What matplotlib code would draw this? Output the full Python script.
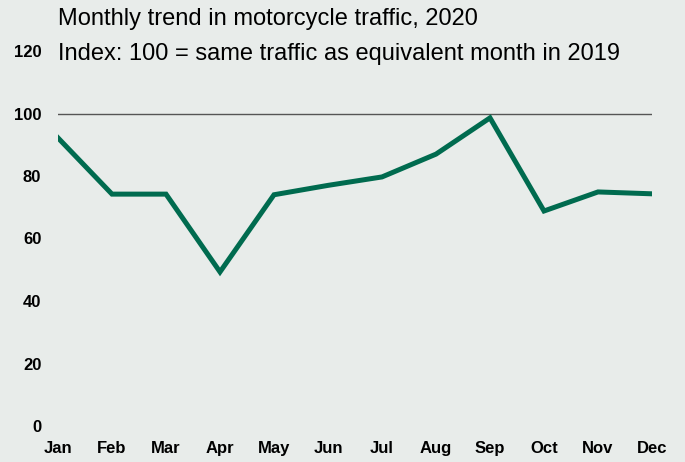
import numpy as np
import matplotlib.pyplot as plt

# monthly index values (100 = same month in 2019)
months = ['Jan', 'Feb', 'Mar', 'Apr', 'May', 'Jun', 'Jul', 'Aug', 'Sep', 'Oct', 'Nov', 'Dec']
index_2020 = [92.2, 74.2, 74.2, 49.3, 74.0, 77.0, 79.7, 87.0, 98.6, 68.8, 74.9, 74.3]
yticks = [0, 20, 40, 60, 80, 100, 120]

bg = '#e8ecea'
green = '#006b4f'

plt.rcParams['font.family'] = ['Liberation Sans', 'DejaVu Sans']

fig = plt.figure(figsize=(6.85, 4.62), dpi=100, facecolor=bg)
ax = fig.add_axes([58/685, 36/462, 594/685, 375/462], facecolor=bg)

x = np.arange(len(months))
ax.axhline(100, color='#555555', lw=1.0, zorder=1)
ax.plot(x, index_2020, color=green, lw=3.6, solid_joinstyle='miter', zorder=2)

ax.set_xlim(0, len(months) - 1)
ax.set_ylim(0, 120)
ax.set_xticks(x)
ax.set_xticklabels(months, fontsize=12, fontweight='bold')
ax.set_yticks(yticks)
ax.set_yticklabels([str(v) for v in yticks], fontsize=12, fontweight='bold')
ax.tick_params(length=0)
ax.tick_params(axis='x', pad=11)
ax.tick_params(axis='y', pad=12)
for s in ax.spines.values():
    s.set_visible(False)

fig.text(58/685, 1 - 19/462, 'Monthly trend in motorcycle traffic, 2020',
         fontsize=17, va='center', ha='left')
fig.text(58/685, 1 - 54/462, 'Index: 100 = same traffic as equivalent month in 2019',
         fontsize=17, va='center', ha='left')

fig.savefig('out.png', dpi=100, facecolor=bg)
